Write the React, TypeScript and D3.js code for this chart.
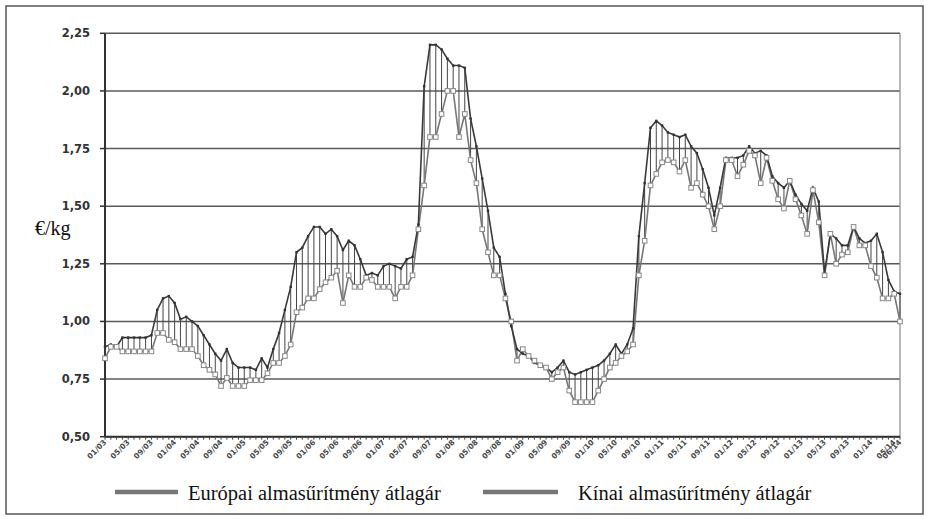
import { useMemo } from 'react'
import * as d3 from 'd3'

// havi kategóriák 01/03 .. 06/14
const startYear = 2003
const monthCount = 138
const categories: string[] = Array.from({ length: monthCount }, (_, i) => {
  const m = (i % 12) + 1
  const y = startYear + Math.floor(i / 12)
  return `${String(m).padStart(2, '0')}/${String(y % 100).padStart(2, '0')}`
})

const yTicks = [0.5, 0.75, 1.0, 1.25, 1.5, 1.75, 2.0, 2.25]

// Európai almasűrítmény átlagár (€/kg)
const europai = [
  0.89, 0.90, 0.89, 0.93, 0.93, 0.93, 0.93, 0.93, 0.94, 1.05, 1.10, 1.11,
  1.08, 1.01, 1.02, 1.00, 0.98, 0.94, 0.90, 0.86, 0.83, 0.88, 0.82, 0.80,
  0.80, 0.80, 0.79, 0.84, 0.80, 0.88, 0.95, 1.05, 1.15, 1.30, 1.32, 1.37,
  1.41, 1.41, 1.38, 1.40, 1.37, 1.31, 1.35, 1.33, 1.27, 1.20, 1.21, 1.20,
  1.24, 1.25, 1.24, 1.23, 1.27, 1.28, 1.42, 2.02, 2.20, 2.20, 2.18, 2.14,
  2.11, 2.11, 2.10, 1.88, 1.76, 1.62, 1.48, 1.32, 1.28, 1.12, 0.98, 0.88,
  0.86, 0.85, 0.82, 0.81, 0.80, 0.78, 0.80, 0.83, 0.78, 0.77, 0.78, 0.79,
  0.80, 0.81, 0.83, 0.86, 0.90, 0.86, 0.90, 0.97, 1.37, 1.60, 1.84, 1.87,
  1.85, 1.82, 1.81, 1.80, 1.81, 1.76, 1.73, 1.66, 1.58, 1.46, 1.58, 1.71,
  1.71, 1.71, 1.72, 1.76, 1.73, 1.74, 1.72, 1.63, 1.60, 1.58, 1.61, 1.55,
  1.51, 1.48, 1.58, 1.52, 1.21, 1.38, 1.36, 1.33, 1.33, 1.41, 1.36, 1.34,
  1.35, 1.38, 1.30, 1.18, 1.13, 1.12,
]

// Kínai almasűrítmény átlagár (€/kg)
const kinai = [
  0.84, 0.89, 0.89, 0.87, 0.87, 0.87, 0.87, 0.87, 0.87, 0.95, 0.95, 0.92,
  0.91, 0.88, 0.88, 0.88, 0.85, 0.81, 0.79, 0.77, 0.72, 0.755, 0.72, 0.72,
  0.72, 0.745, 0.745, 0.745, 0.775, 0.82, 0.82, 0.85, 0.90, 1.04, 1.06, 1.10,
  1.10, 1.14, 1.17, 1.19, 1.22, 1.08, 1.20, 1.15, 1.15, 1.19, 1.18, 1.15,
  1.15, 1.15, 1.10, 1.15, 1.15, 1.20, 1.40, 1.59, 1.80, 1.80, 1.90, 2.00,
  2.00, 1.80, 1.90, 1.70, 1.60, 1.40, 1.30, 1.20, 1.20, 1.10, 1.00, 0.83,
  0.88, 0.85, 0.83, 0.81, 0.80, 0.75, 0.78, 0.80, 0.70, 0.65, 0.65, 0.65,
  0.65, 0.70, 0.75, 0.80, 0.82, 0.85, 0.87, 0.90, 1.20, 1.35, 1.59, 1.64,
  1.69, 1.70, 1.69, 1.65, 1.70, 1.58, 1.60, 1.55, 1.50, 1.40, 1.50, 1.70,
  1.70, 1.63, 1.68, 1.74, 1.72, 1.60, 1.71, 1.61, 1.53, 1.49, 1.61, 1.53,
  1.46, 1.38, 1.57, 1.43, 1.20, 1.38, 1.25, 1.29, 1.30, 1.41, 1.33, 1.33,
  1.24, 1.19, 1.10, 1.10, 1.12, 1.00,
]

const seriesNames = ['Európai almasűrítmény átlagár', 'Kínai almasűrítmény átlagár']

export default function App() {
  const width = 929
  const height = 519
  const margin = { top: 33.3, right: 29, bottom: 82.3, left: 105 }
  const innerW = width - margin.left - margin.right
  const innerH = height - margin.top - margin.bottom

  const x = useMemo(() => d3.scalePoint<number>()
    .domain(d3.range(categories.length))
    .range([0, innerW]), [innerW])

  const y = useMemo(() => d3.scaleLinear()
    .domain([0.5, 2.25])
    .range([innerH, 0]), [innerH])

  const line = d3.line<number>()
    .x((_, i) => x(i) as number)
    .y(d => y(d))

  // címke minden 4. hónapnál + utolsó
  const labelIdx = categories.map((_, i) => i).filter(i => i % 4 === 0 || i === categories.length - 1)

  return (
    <svg width={width} height={height} style={{ position: 'absolute', left: 0, top: 0, background: '#fff' }}>
      <rect x={6} y={6} width={917} height={508} fill="none" stroke="#555" strokeWidth={1.5} />
      <g transform={`translate(${margin.left},${margin.top})`}>
        {/* rácsvonalak */}
        {yTicks.map(t => (
          <line key={t} x1={0} x2={innerW} y1={y(t)} y2={y(t)} stroke="#5a5a5a" strokeWidth={1.6} />
        ))}
        <line x1={innerW} x2={innerW} y1={0} y2={innerH} stroke="#8a8a8a" strokeWidth={1.2} />
        {/* y tengely */}
        <line x1={0} x2={0} y1={0} y2={innerH} stroke="#333" strokeWidth={2} />
        {yTicks.map(t => (
          <g key={'yt' + t}>
            <line x1={-5} x2={0} y1={y(t)} y2={y(t)} stroke="#333" strokeWidth={1.5} />
            <text x={-15} y={y(t)} dy="0.35em" textAnchor="end" fontFamily="DejaVu Sans, Verdana, sans-serif"
              fontWeight="bold" fontSize={11.5} fill="#333">
              {d3.format('.2f')(t).replace('.', ',')}
            </text>
          </g>
        ))}
        {/* x tengely */}
        <line x1={0} x2={innerW} y1={innerH} y2={innerH} stroke="#333" strokeWidth={2} />
        {categories.map((_, i) => (
          <line key={'xt' + i} x1={x(i)} x2={x(i)} y1={innerH} y2={innerH + 3} stroke="#444" strokeWidth={1} />
        ))}
        {labelIdx.map(i => (
          <text key={'xl' + i} transform={`translate(${(x(i) as number) + 2},${innerH + 6}) rotate(-45)`}
            textAnchor="end" fontFamily="DejaVu Sans, Verdana, sans-serif" fontWeight="bold" fontSize={7.5}
            fill="#4a4a4a">
            {categories[i]}
          </text>
        ))}
        {/* high-low vonalak */}
        {categories.map((_, i) => (
          <line key={'hl' + i} x1={x(i)} x2={x(i)}
            y1={y(Math.max(europai[i], kinai[i]))} y2={y(Math.min(europai[i], kinai[i]))}
            stroke="#444" strokeWidth={1} />
        ))}
        <path d={line(kinai) ?? ''} fill="none" stroke="#777" strokeWidth={1.6} />
        <path d={line(europai) ?? ''} fill="none" stroke="#3a3a3a" strokeWidth={1.6} />
        {europai.map((v, i) => (
          <rect key={'em' + i} x={(x(i) as number) - 1.2} y={y(v) - 1.2} width={2.4} height={2.4} fill="#333" />
        ))}
        {kinai.map((v, i) => (
          <rect key={'km' + i} x={(x(i) as number) - 2.3} y={y(v) - 2.3} width={4.6} height={4.6}
            fill="#fff" stroke="#888" strokeWidth={1} />
        ))}
      </g>
      <text x={35} y={235} fontFamily="Liberation Serif, Times New Roman, serif" fontSize={20} fill="#111">€/kg</text>
      {/* jelmagyarázat */}
      <line x1={115} x2={178} y1={492} y2={492} stroke="#777" strokeWidth={4.5} />
      <text x={188} y={500} fontFamily="Liberation Serif, Times New Roman, serif" fontSize={20.5} fill="#111">{seriesNames[0]}</text>
      <line x1={483} x2={558} y1={492} y2={492} stroke="#777" strokeWidth={4.5} />
      <text x={578} y={500} fontFamily="Liberation Serif, Times New Roman, serif" fontSize={20.5} fill="#111">{seriesNames[1]}</text>
    </svg>
  )
}
